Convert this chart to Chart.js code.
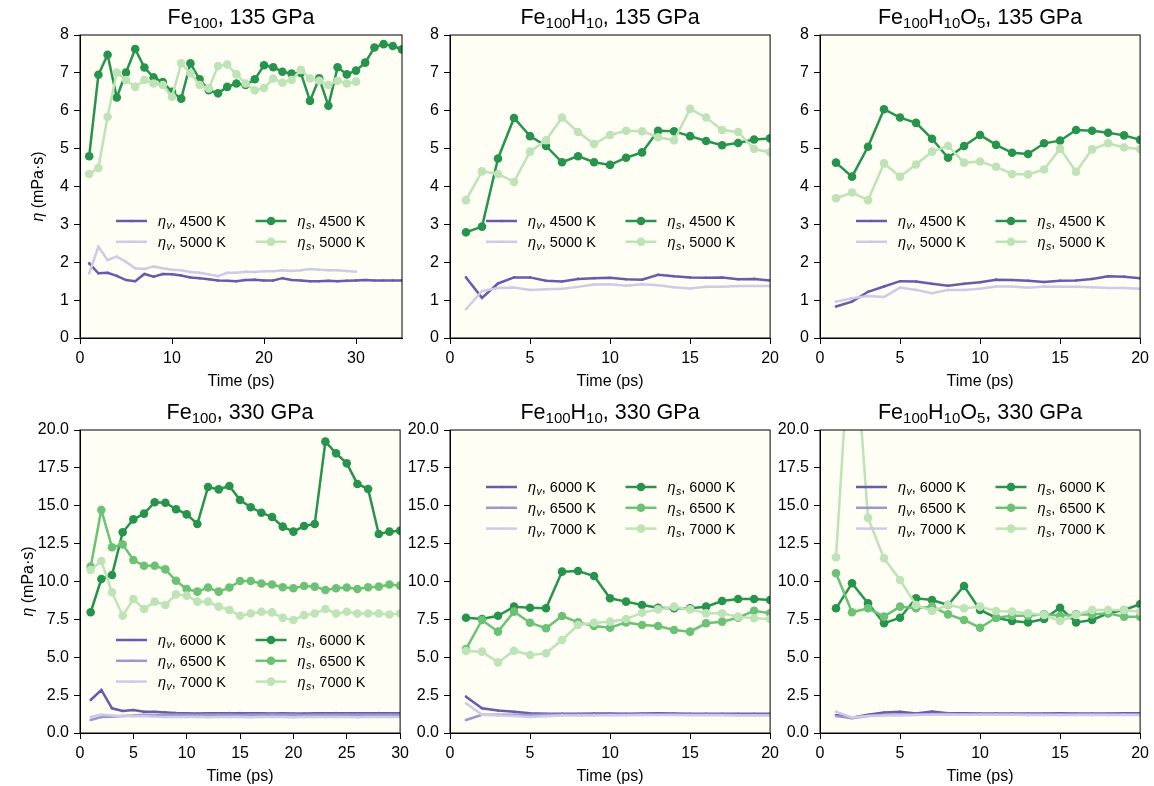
<!DOCTYPE html>
<html>
<head>
<meta charset="utf-8">
<script src="https://cdn.jsdelivr.net/npm/chart.js@4.4.1/dist/chart.umd.min.js"></script>
<style>
  body { margin: 0; background: #fff; width: 1154px; height: 786px; position: relative; overflow: hidden; }
  canvas { position: absolute; }
</style>
</head>
<body>
<canvas id="p1" width="414" height="393"></canvas>
<canvas id="p2" width="414" height="393"></canvas>
<canvas id="p3" width="414" height="393"></canvas>
<canvas id="p4" width="414" height="393"></canvas>
<canvas id="p5" width="414" height="393"></canvas>
<canvas id="p6" width="414" height="393"></canvas>
<script>
// time axis (ps)
const time = [1,2,3,4,5,6,7,8,9,10,11,12,13,14,15,16,17,18,19,20,21,22,23,24,25,26,27,28,29,30,31,32,33,34,35];

// Fe100, 135 GPa
const fe100_135_v4500 = [1.97,1.71,1.72,1.64,1.53,1.50,1.69,1.62,1.69,1.68,1.65,1.60,1.58,1.55,1.52,1.51,1.50,1.53,1.54,1.52,1.52,1.58,1.53,1.52,1.50,1.50,1.51,1.50,1.51,1.52,1.53,1.52,1.52,1.52,1.52];
const fe100_135_v5000 = [1.71,2.41,2.06,2.15,2.01,1.84,1.82,1.89,1.84,1.80,1.79,1.74,1.72,1.68,1.63,1.72,1.72,1.75,1.74,1.76,1.76,1.79,1.77,1.79,1.82,1.80,1.79,1.79,1.77,1.75];
const fe100_135_s4500 = [4.80,6.95,7.48,6.35,7.01,7.63,7.14,6.88,6.76,6.50,6.32,7.25,6.83,6.54,6.46,6.63,6.72,6.68,6.83,7.20,7.15,7.03,6.98,7.00,6.26,6.86,6.13,7.15,6.96,7.06,7.27,7.67,7.76,7.71,7.62];
const fe100_135_s5000 = [4.33,4.49,5.84,7.01,6.81,6.63,6.81,6.72,6.68,6.37,7.25,6.99,6.68,6.59,7.18,7.22,6.96,6.72,6.54,6.60,6.85,6.74,6.81,7.08,6.85,6.79,6.68,6.79,6.72,6.77];

// Fe100H10, 135 GPa
const fe100h10_135_v4500 = [1.60,1.06,1.44,1.60,1.60,1.51,1.49,1.56,1.58,1.59,1.55,1.54,1.67,1.63,1.60,1.59,1.60,1.55,1.56,1.52];
const fe100h10_135_v5000 = [0.76,1.24,1.32,1.33,1.27,1.29,1.30,1.35,1.41,1.42,1.38,1.42,1.39,1.34,1.31,1.35,1.35,1.37,1.37,1.37];
const fe100h10_135_s4500 = [2.79,2.94,4.74,5.81,5.33,5.07,4.64,4.80,4.64,4.57,4.76,4.90,5.47,5.46,5.33,5.20,5.09,5.15,5.24,5.27];
const fe100h10_135_s5000 = [3.64,4.40,4.33,4.12,4.92,5.22,5.82,5.44,5.12,5.36,5.47,5.46,5.30,5.22,6.05,5.82,5.49,5.44,4.99,4.90];

// Fe100H10O5, 135 GPa
const fe100h10o5_135_v4500 = [0.83,0.96,1.22,1.36,1.50,1.49,1.43,1.38,1.43,1.47,1.54,1.53,1.51,1.48,1.51,1.52,1.56,1.63,1.62,1.58];
const fe100h10o5_135_v5000 = [0.96,1.05,1.11,1.08,1.33,1.27,1.18,1.27,1.27,1.30,1.36,1.36,1.33,1.36,1.35,1.35,1.34,1.32,1.32,1.30];
const fe100h10o5_135_s4500 = [4.63,4.26,5.05,6.04,5.82,5.68,5.26,4.76,5.07,5.36,5.10,4.89,4.86,5.14,5.21,5.49,5.47,5.42,5.35,5.23];
const fe100h10o5_135_s5000 = [3.69,3.84,3.64,4.61,4.26,4.58,4.92,5.07,4.63,4.66,4.52,4.33,4.32,4.45,5.00,4.39,4.98,5.14,5.03,4.99];

// Fe100, 330 GPa
const fe100_330_v6000 = [2.18,2.84,1.63,1.45,1.52,1.40,1.40,1.36,1.32,1.30,1.29,1.30,1.30,1.31,1.31,1.30,1.30,1.29,1.30,1.29,1.29,1.30,1.30,1.31,1.30,1.30,1.30,1.31,1.30,1.30];
const fe100_330_v6500 = [0.86,1.05,1.08,1.12,1.15,1.20,1.19,1.20,1.21,1.20,1.19,1.20,1.21,1.20,1.19,1.20,1.20,1.21,1.20,1.20,1.19,1.20,1.20,1.20,1.21,1.20,1.20,1.20,1.20,1.20];
const fe100_330_v7000 = [1.06,1.22,1.15,1.12,1.10,1.12,1.08,1.06,1.05,1.05,1.05,1.04,1.05,1.05,1.05,1.04,1.05,1.05,1.05,1.04,1.05,1.05,1.05,1.05,1.05,1.04,1.05,1.05,1.05,1.05];
const fe100_330_s6000 = [7.97,10.16,10.43,13.25,14.10,14.48,15.23,15.20,14.77,14.43,13.80,16.24,16.08,16.30,15.38,14.90,14.54,14.26,13.62,13.29,13.66,13.80,19.23,18.46,17.80,16.44,16.11,13.14,13.29,13.35];
const fe100_330_s6500 = [10.98,14.72,12.26,12.45,11.42,11.04,11.04,10.80,10.05,9.50,9.33,9.60,9.33,9.60,10.03,10.03,9.87,9.80,9.62,9.55,9.70,9.66,9.44,9.55,9.60,9.50,9.62,9.66,9.80,9.73];
const fe100_330_s7000 = [10.76,11.35,9.29,7.74,8.84,8.18,8.67,8.45,9.15,9.07,8.67,8.67,8.34,8.12,7.74,7.89,8.00,7.96,7.60,7.46,7.78,7.89,8.18,7.89,8.00,7.89,7.89,7.89,7.82,7.89];

// Fe100H10, 330 GPa
const fe100h10_330_v6000 = [2.40,1.63,1.48,1.40,1.30,1.27,1.27,1.27,1.28,1.28,1.27,1.28,1.30,1.28,1.27,1.27,1.27,1.27,1.27,1.27];
const fe100h10_330_v6500 = [0.86,1.20,1.20,1.20,1.18,1.20,1.20,1.21,1.21,1.21,1.20,1.20,1.20,1.20,1.20,1.20,1.20,1.18,1.18,1.18];
const fe100h10_330_v7000 = [1.96,1.20,1.15,1.12,1.05,1.10,1.15,1.15,1.16,1.17,1.17,1.18,1.18,1.18,1.17,1.17,1.17,1.15,1.15,1.15];
const fe100h10_330_s6000 = [7.61,7.52,7.74,8.34,8.27,8.23,10.65,10.69,10.36,8.89,8.67,8.45,8.27,8.23,8.23,8.34,8.71,8.84,8.84,8.78];
const fe100h10_330_s6500 = [5.54,7.46,6.69,8.01,7.28,6.91,7.72,7.30,7.06,6.95,7.30,7.13,7.06,6.80,6.69,7.24,7.35,7.61,8.07,7.90];
const fe100h10_330_s7000 = [5.41,5.37,4.66,5.43,5.15,5.26,6.14,7.13,7.28,7.35,7.52,7.94,8.16,8.34,8.16,7.90,7.90,7.68,7.57,7.52];

// Fe100H10O5, 330 GPa
const fe100h10o5_330_v6000 = [1.19,1.00,1.20,1.35,1.40,1.28,1.42,1.30,1.30,1.28,1.28,1.29,1.29,1.29,1.30,1.29,1.29,1.29,1.30,1.30];
const fe100h10o5_330_v6500 = [1.12,0.98,1.12,1.20,1.22,1.22,1.25,1.25,1.22,1.22,1.22,1.22,1.22,1.22,1.22,1.22,1.22,1.22,1.22,1.22];
const fe100h10o5_330_v7000 = [1.41,1.02,1.12,1.15,1.15,1.18,1.20,1.20,1.20,1.20,1.20,1.20,1.18,1.18,1.18,1.18,1.18,1.18,1.18,1.18];
const fe100h10o5_330_s6000 = [8.23,9.88,8.56,7.24,7.61,8.89,8.78,8.45,9.70,8.12,7.61,7.39,7.30,7.52,8.27,7.30,7.46,7.90,8.12,8.50];
const fe100h10o5_330_s6500 = [10.54,7.97,8.23,7.68,8.34,8.23,8.34,7.83,7.46,6.95,7.61,7.74,7.74,7.83,7.74,7.83,7.83,7.90,7.68,7.68];
const fe100h10o5_330_s7000 = [11.60,28.50,14.20,11.53,10.10,8.45,8.05,8.45,8.23,8.34,8.05,8.01,7.90,7.79,7.39,7.79,8.12,8.12,8.12,8.01];

// tick labels
const yTicksTop = [0,1,2,3,4,5,6,7,8];
const yTicksBottom = [0,2.5,5,7.5,10,12.5,15,17.5,20];
const xTicks35 = [0,10,20,30];
const xTicks30 = [0,5,10,15,20,25,30];
const xTicks20 = [0,5,10,15,20];

const FONT = "'Liberation Sans', Arial, sans-serif";
const PURPLE = ['#6a5aad', '#9d98cc', '#cdcbe6'];
const GREEN = ['#27944d', '#6cc274', '#bde3b6'];

function line(vals, color, kind, temp) {
  const shear = kind === 's';
  return {
    data: vals.map((v, i) => ({x: time[i], y: v})),
    borderColor: color,
    backgroundColor: color,
    borderWidth: 2.5,
    pointRadius: shear ? 4.3 : 1.3,
    pointBorderWidth: 0,
    pointBackgroundColor: color,
    tension: 0,
    sub: kind,
    temp: temp
  };
}

// background, frame, title, axis labels and matplotlib-like legend
const deco = {
  id: 'deco',
  beforeDraw(chart) {
    const a = chart.chartArea, ctx = chart.ctx;
    ctx.save();
    ctx.fillStyle = '#fffef4';
    ctx.fillRect(a.left, a.top, a.right - a.left, a.bottom - a.top);
    ctx.restore();
  },
  afterDraw(chart, args, o) {
    const a = chart.chartArea, ctx = chart.ctx;
    ctx.save();
    ctx.strokeStyle = '#000';
    ctx.lineWidth = 1;
    ctx.strokeRect(a.left, a.top, a.right - a.left, a.bottom - a.top);

    // title with subscripts
    ctx.fillStyle = '#000';
    ctx.textBaseline = 'alphabetic';
    const tFont = p => (p[1] ? '15px ' : '21.5px ') + FONT;
    let w = 0;
    o.title.forEach(p => { ctx.font = tFont(p); w += ctx.measureText(p[0]).width; });
    let tx = (a.left + a.right) / 2 - w / 2;
    o.title.forEach(p => {
      ctx.font = tFont(p);
      ctx.fillText(p[0], tx, a.top - 11 + (p[1] ? 4 : 0));
      tx += ctx.measureText(p[0]).width;
    });

    // x label
    ctx.font = '16px ' + FONT;
    ctx.textAlign = 'center';
    ctx.fillText('Time (ps)', (a.left + a.right) / 2, a.bottom + 48);

    // y label
    if (o.yLabel) {
      ctx.save();
      ctx.translate(a.left - o.yLabel, (a.top + a.bottom) / 2);
      ctx.rotate(-Math.PI / 2);
      ctx.textAlign = 'left';
      ctx.font = 'italic 16px ' + FONT;
      const w1 = ctx.measureText('η').width;
      ctx.font = '16px ' + FONT;
      const w2 = ctx.measureText(' (mPa·s)').width;
      let x0 = -(w1 + w2) / 2;
      ctx.font = 'italic 16px ' + FONT;
      ctx.fillText('η', x0, 0);
      ctx.font = '16px ' + FONT;
      ctx.fillText(' (mPa·s)', x0 + w1, 0);
      ctx.restore();
    }

    // legend
    ctx.textAlign = 'left';
    const L = o.legend;
    L.rows.forEach((row, r) => {
      row.forEach((di, c) => {
        const ds = chart.data.datasets[di];
        const x = a.left + L.dx + c * 139.5;
        const y = a.top + L.dy + r * 20.8;
        ctx.strokeStyle = ds.borderColor;
        ctx.lineWidth = ds.borderWidth;
        ctx.beginPath(); ctx.moveTo(x, y); ctx.lineTo(x + 31, y); ctx.stroke();
        ctx.fillStyle = ds.borderColor;
        ctx.beginPath(); ctx.arc(x + 15.5, y, ds.pointRadius, 0, Math.PI * 2); ctx.fill();
        ctx.fillStyle = '#000';
        let lx = x + 42;
        ctx.font = 'italic 14.5px ' + FONT;
        ctx.fillText('η', lx, y + 5);
        lx += ctx.measureText('η').width + 0.5;
        ctx.font = 'italic 10.5px ' + FONT;
        ctx.fillText(ds.sub, lx, y + 8);
        lx += ctx.measureText(ds.sub).width;
        ctx.font = '14.5px ' + FONT;
        ctx.fillText(', ' + ds.temp, lx, y + 5);
      });
    });
    ctx.restore();
  }
};

function panel(id, plotLeft, plotTop, datasets, xMax, xTicks, yMax, yTicks, fixed, opts) {
  const cv = document.getElementById(id);
  cv.style.left = (plotLeft - 80) + 'px';
  cv.style.top = (plotTop - 35) + 'px';
  datasets.forEach((d, i) => { d.order = datasets.length - i; });
  const axisCommon = {
    type: 'linear',
    grid: { display: true, drawOnChartArea: false, drawTicks: true, tickLength: 6, color: '#000', tickColor: '#000' },
    border: { display: true, color: '#000', width: 1 },
    ticks: { color: '#000', font: { family: FONT, size: 16 }, padding: 5, autoSkip: false, maxRotation: 0 }
  };
  return new Chart(cv, {
    type: 'line',
    data: { datasets: datasets },
    options: {
      responsive: false,
      animation: false,
      events: [],
      layout: { padding: { top: 35, right: 12, left: 0, bottom: 0 }, autoPadding: false },
      scales: {
        x: Object.assign({}, axisCommon, {
          min: 0, max: xMax,
          afterBuildTicks: s => { s.ticks = xTicks.map(v => ({ value: v })); },
          afterFit: s => { s.height = 55; },
          ticks: Object.assign({}, axisCommon.ticks, { callback: v => String(v) })
        }),
        y: Object.assign({}, axisCommon, {
          min: 0, max: yMax,
          afterBuildTicks: s => { s.ticks = yTicks.map(v => ({ value: v })); },
          afterFit: s => { s.width = 80; },
          ticks: Object.assign({}, axisCommon.ticks, { callback: v => fixed ? v.toFixed(1) : String(v) })
        })
      },
      plugins: {
        legend: { display: false },
        title: { display: false },
        tooltip: { enabled: false },
        deco: opts
      }
    },
    plugins: [deco]
  });
}

const legend2 = (dy) => ({ dx: 36, dy: dy, rows: [[0, 2], [1, 3]] });
const legend3 = (dy) => ({ dx: 36, dy: dy, rows: [[0, 3], [1, 4], [2, 5]] });

panel('p1', 80, 35, [
  line(fe100_135_v4500, PURPLE[0], 'v', '4500 K'),
  line(fe100_135_v5000, PURPLE[2], 'v', '5000 K'),
  line(fe100_135_s4500, GREEN[0], 's', '4500 K'),
  line(fe100_135_s5000, GREEN[2], 's', '5000 K')
], 35, xTicks35, 8, yTicksTop, false,
  { title: [['Fe', 0], ['100', 1], [', 135 GPa', 0]], yLabel: 37, legend: legend2(186) });

panel('p2', 450, 35, [
  line(fe100h10_135_v4500, PURPLE[0], 'v', '4500 K'),
  line(fe100h10_135_v5000, PURPLE[2], 'v', '5000 K'),
  line(fe100h10_135_s4500, GREEN[0], 's', '4500 K'),
  line(fe100h10_135_s5000, GREEN[2], 's', '5000 K')
], 20, xTicks20, 8, yTicksTop, false,
  { title: [['Fe', 0], ['100', 1], ['H', 0], ['10', 1], [', 135 GPa', 0]], yLabel: 0, legend: legend2(186) });

panel('p3', 820, 35, [
  line(fe100h10o5_135_v4500, PURPLE[0], 'v', '4500 K'),
  line(fe100h10o5_135_v5000, PURPLE[2], 'v', '5000 K'),
  line(fe100h10o5_135_s4500, GREEN[0], 's', '4500 K'),
  line(fe100h10o5_135_s5000, GREEN[2], 's', '5000 K')
], 20, xTicks20, 8, yTicksTop, false,
  { title: [['Fe', 0], ['100', 1], ['H', 0], ['10', 1], ['O', 0], ['5', 1], [', 135 GPa', 0]], yLabel: 0, legend: legend2(186) });

panel('p4', 80, 430, [
  line(fe100_330_v6000, PURPLE[0], 'v', '6000 K'),
  line(fe100_330_v6500, PURPLE[1], 'v', '6500 K'),
  line(fe100_330_v7000, PURPLE[2], 'v', '7000 K'),
  line(fe100_330_s6000, GREEN[0], 's', '6000 K'),
  line(fe100_330_s6500, GREEN[1], 's', '6500 K'),
  line(fe100_330_s7000, GREEN[2], 's', '7000 K')
], 30, xTicks30, 20, yTicksBottom, true,
  { title: [['Fe', 0], ['100', 1], [', 330 GPa', 0]], yLabel: 47, legend: legend3(210) });

panel('p5', 450, 430, [
  line(fe100h10_330_v6000, PURPLE[0], 'v', '6000 K'),
  line(fe100h10_330_v6500, PURPLE[1], 'v', '6500 K'),
  line(fe100h10_330_v7000, PURPLE[2], 'v', '7000 K'),
  line(fe100h10_330_s6000, GREEN[0], 's', '6000 K'),
  line(fe100h10_330_s6500, GREEN[1], 's', '6500 K'),
  line(fe100h10_330_s7000, GREEN[2], 's', '7000 K')
], 20, xTicks20, 20, yTicksBottom, true,
  { title: [['Fe', 0], ['100', 1], ['H', 0], ['10', 1], [', 330 GPa', 0]], yLabel: 0, legend: legend3(57) });

panel('p6', 820, 430, [
  line(fe100h10o5_330_v6000, PURPLE[0], 'v', '6000 K'),
  line(fe100h10o5_330_v6500, PURPLE[1], 'v', '6500 K'),
  line(fe100h10o5_330_v7000, PURPLE[2], 'v', '7000 K'),
  line(fe100h10o5_330_s6000, GREEN[0], 's', '6000 K'),
  line(fe100h10o5_330_s6500, GREEN[1], 's', '6500 K'),
  line(fe100h10o5_330_s7000, GREEN[2], 's', '7000 K')
], 20, xTicks20, 20, yTicksBottom, true,
  { title: [['Fe', 0], ['100', 1], ['H', 0], ['10', 1], ['O', 0], ['5', 1], [', 330 GPa', 0]], yLabel: 0, legend: legend3(57) });
</script>
</body>
</html>
